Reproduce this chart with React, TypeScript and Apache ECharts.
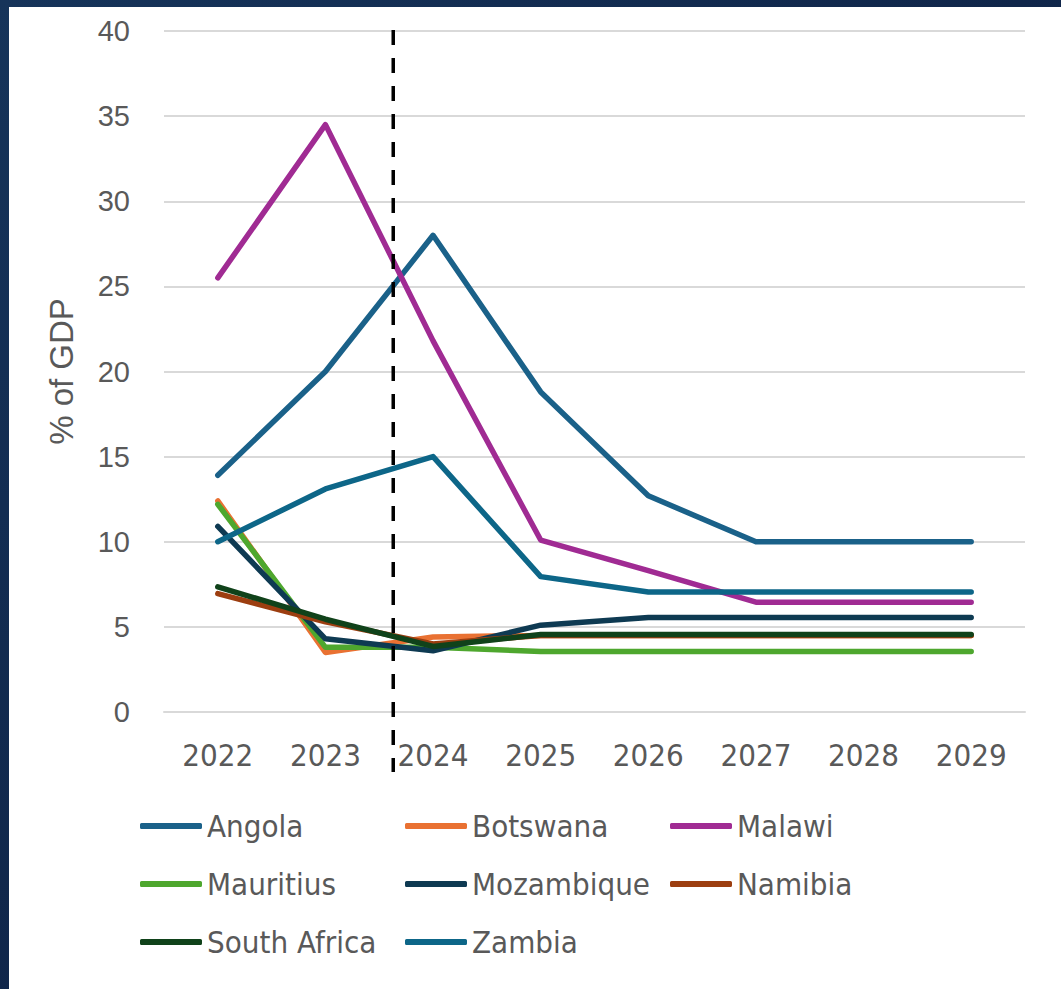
import React, { useEffect, useRef } from "react";
import * as echarts from "echarts";

// Fiscal series, % of GDP
const years = ["2022", "2023", "2024", "2025", "2026", "2027", "2028", "2029"];

const angola = [13.9, 20.0, 28.0, 18.8, 12.7, 10.0, 10.0, 10.0];
const botswana = [12.4, 3.5, 4.4, 4.5, 4.5, 4.5, 4.5, 4.5];
const malawi = [25.5, 34.5, 21.8, 10.1, 8.3, 6.45, 6.45, 6.45];
const mauritius = [12.2, 3.8, 3.8, 3.55, 3.55, 3.55, 3.55, 3.55];
const mozambique = [10.9, 4.3, 3.6, 5.1, 5.55, 5.55, 5.55, 5.55];
const namibia = [6.95, 5.3, 4.0, 4.5, 4.5, 4.5, 4.5, 4.5];
const southAfrica = [7.35, 5.45, 3.85, 4.55, 4.55, 4.55, 4.55, 4.55];
const zambia = [10.0, 13.1, 15.0, 7.95, 7.05, 7.05, 7.05, 7.05];

const countries = [
  "Angola",
  "Botswana",
  "Malawi",
  "Mauritius",
  "Mozambique",
  "Namibia",
  "South Africa",
  "Zambia",
];
const seriesValues = [angola, botswana, malawi, mauritius, mozambique, namibia, southAfrica, zambia];
const colors = ["#1a6189", "#e97132", "#a02b93", "#4ea72e", "#0e3a52", "#9c3e10", "#10421a", "#0d6688"];

const yTicks = { min: 0, max: 40, interval: 5 };

// Category position (fractional index) of the dashed divider, between 2023 and 2024
const dividerAt = 1.63;

const narrowFont = "'Liberation Sans Narrow', 'DejaVu Sans Condensed', 'Liberation Sans', sans-serif";
const labelFont = "'Liberation Sans', Arial, sans-serif";

export default function App() {
  const ref = useRef<HTMLDivElement>(null);

  useEffect(() => {
    if (!ref.current) return;
    const chart = echarts.init(ref.current, undefined, { renderer: "svg" });

    chart.setOption({
      animation: false,
      backgroundColor: "#ffffff",
      grid: { left: 155, right: 36, top: 24, bottom: 277 },
      xAxis: {
        type: "category",
        data: years,
        boundaryGap: true,
        axisLine: { show: true, lineStyle: { color: "#d9d9d9", width: 2 } },
        axisTick: { show: false },
        axisLabel: { color: "#595959", fontSize: 31, fontFamily: narrowFont, margin: 27 },
      },
      yAxis: {
        type: "value",
        min: yTicks.min,
        max: yTicks.max,
        interval: yTicks.interval,
        name: "% of GDP",
        nameLocation: "middle",
        nameGap: 86,
        nameTextStyle: { color: "#595959", fontSize: 33, fontFamily: labelFont },
        axisLine: { show: false },
        axisTick: { show: false },
        axisLabel: { color: "#595959", fontSize: 29, fontFamily: labelFont, margin: 34 },
        splitLine: { lineStyle: { color: "#d9d9d9", width: 2 } },
      },
      legend: {
        left: 131,
        top: 790,
        width: 820,
        padding: 0,
        orient: "horizontal",
        itemGap: 0,
        itemWidth: 62,
        itemHeight: 6,
        icon: "roundRect",
        data: countries,
        textStyle: {
          color: "#595959",
          fontSize: 31,
          fontFamily: narrowFont,
          width: 198,
          height: 58,
          lineHeight: 58,
          padding: [0, 0, 0, 0],
        },
      },
      series: countries.map((name, i) => ({
        name,
        type: "line",
        data: seriesValues[i],
        symbol: "none",
        color: colors[i],
        lineStyle: { width: 5.5, color: colors[i], cap: "round", join: "round" },
      })),
    });

    // Dashed divider placed on the category scale
    const p1 = chart.convertToPixel({ xAxisIndex: 0 }, Math.floor(dividerAt)) as number;
    const p2 = chart.convertToPixel({ xAxisIndex: 0 }, Math.floor(dividerAt) + 1) as number;
    const x = p1 + (p2 - p1) * (dividerAt - Math.floor(dividerAt));
    chart.setOption({
      graphic: [
        {
          type: "line",
          shape: { x1: x, y1: 23, x2: x, y2: 765 },
          style: { stroke: "#000000", lineWidth: 3.5, lineDash: [15, 13] },
          z: 100,
        },
      ],
    });

    return () => chart.dispose();
  }, []);

  return (
    <div
      style={{
        position: "fixed",
        inset: 0,
        background: "linear-gradient(135deg, #16345a 0%, #10264a 50%, #163a60 100%)",
      }}
    >
      <div
        ref={ref}
        style={{ position: "absolute", left: 9, top: 7, width: 1052, height: 982 }}
      />
    </div>
  );
}
